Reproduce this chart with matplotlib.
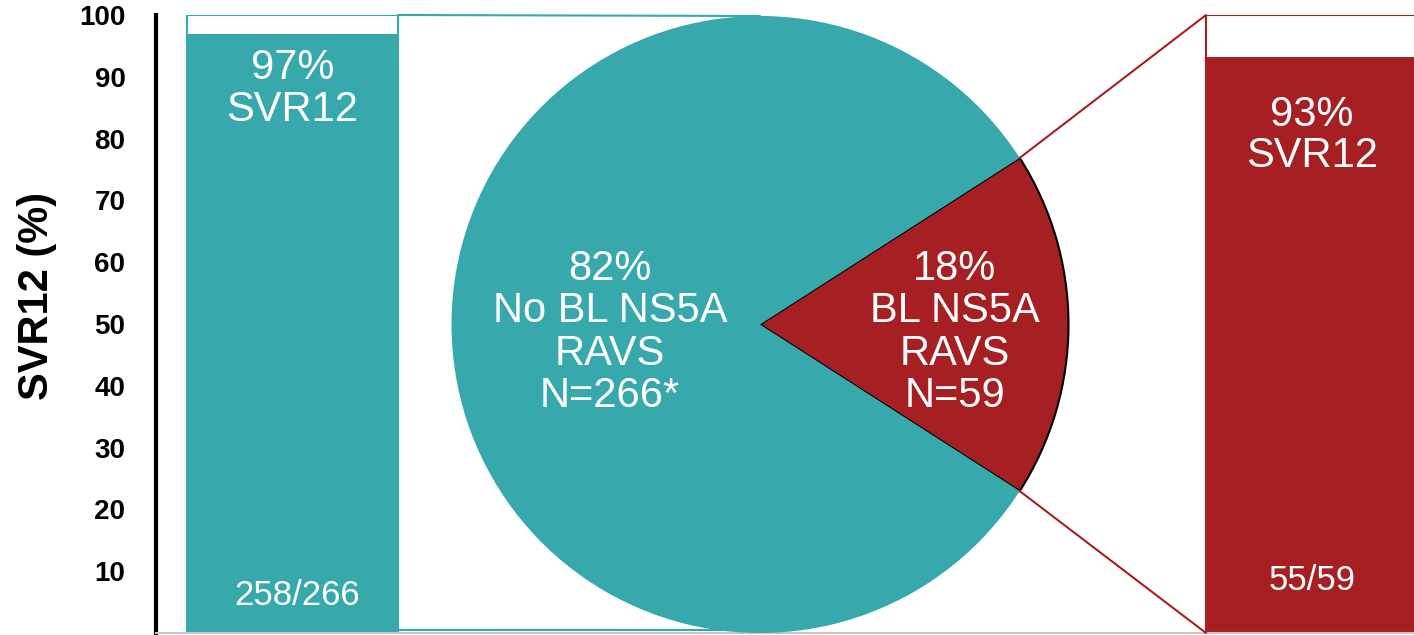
import matplotlib.pyplot as plt
from matplotlib.patches import ConnectionPatch
import numpy as np

plt.rcParams['font.family'] = ['Liberation Sans', 'DejaVu Sans']

# SVR12 outcome by baseline NS5A RAV status
groups = ['No BL NS5A\nRAVS', 'BL NS5A\nRAVS']
n_total = [266, 59]
n_svr = [258, 55]
y_ticks = [10, 20, 30, 40, 50, 60, 70, 80, 90, 100]

teal = '#37A8AC'
red = '#A61F22'

W, H = 1414, 635
fig = plt.figure(figsize=(W / 100, H / 100), dpi=100)

svr_pct = [100 * s / n for s, n in zip(n_svr, n_total)]
share = [100 * n / sum(n_total) for n in n_total]

# bar axes (x in pixel-like units, y in percent)
ax = fig.add_axes([156 / W, 2 / H, 1 - 156 / W, 618 / H])
ax.set_xlim(0, W - 156)
ax.set_ylim(0, 100)
bar_left = [31, 1050]
bar_w = [211, 230]
colors = [teal, red]
for i in range(2):
    ax.bar(bar_left[i], svr_pct[i], width=bar_w[i], align='edge', color=colors[i], lw=0)
    ax.bar(bar_left[i], 100, width=bar_w[i], align='edge', facecolor='none',
           edgecolor=colors[i], lw=1.5)
cx = [bar_left[0] + bar_w[0] / 2, 1050 + 106]
text_y = [88, 80.5]
count_y = [6, 8.5]
for i in range(2):
    ax.text(cx[i], text_y[i], f"{svr_pct[i]:.0f}%\nSVR12", color='white',
            fontsize=30, ha='center', va='center', linespacing=1.05)
    ax.text(cx[i] + (5 if i == 0 else 0), count_y[i], f"{n_svr[i]}/{n_total[i]}",
            color='white', fontsize=25, ha='center', va='center')

ax.set_yticks(y_ticks)
ax.set_yticklabels([str(t) for t in y_ticks], fontsize=20, fontweight='bold')
ax.tick_params(axis='y', length=0, pad=22)
ax.set_xticks([])
ax.spines['top'].set_visible(False)
ax.spines['right'].set_visible(False)
ax.spines['left'].set_linewidth(3)
ax.spines['left'].set_bounds(-1, 100)
ax.spines['bottom'].set_color('#c8c8c8')
ax.spines['bottom'].set_linewidth(1.5)
ax.set_ylabel('SVR12 (%)', fontsize=30, fontweight='bold')
ax.yaxis.set_label_coords(-99 / (W - 156), 0.545)

# pie axes
R = 308.5
pax = fig.add_axes([450 / W, 0.5 / H, 620 / W, 620 / H])
half = share[1] * 3.6 / 2
wedges, _ = pax.pie([share[1], share[0]], colors=[red, teal], radius=R,
                    startangle=-half, counterclock=True, frame=True)
wedges[1].set_linewidth(0)
wedges[0].set_edgecolor('black')
wedges[0].set_linewidth(1.5)
pax.set_aspect('equal')
pax.set_xlim(-310, 310)
pax.set_ylim(-310, 310)
pax.axis('off')
pax.text(-150, -8, f"{share[0]:.0f}%\n{groups[0]}\nN={n_total[0]}*", color='white',
         fontsize=30, ha='center', va='center', linespacing=1.07)
pax.text(195, -8, f"{share[1]:.0f}%\n{groups[1]}\nN={n_total[1]}", color='white',
         fontsize=30, ha='center', va='center', linespacing=1.07)

# connector lines between pie and bars
right0 = bar_left[0] + bar_w[0]
for yb, ya in [(100, R), (0.5, -R + 3)]:
    con = ConnectionPatch(xyA=(0, ya), coordsA=pax.transData,
                          xyB=(right0, yb), coordsB=ax.transData,
                          color=teal, lw=1.5)
    fig.add_artist(con)
a = np.deg2rad(half)
for yb, sgn in [(100, 1), (0, -1)]:
    con = ConnectionPatch(xyA=(R * np.cos(a), sgn * R * np.sin(a)), coordsA=pax.transData,
                          xyB=(bar_left[1], yb), coordsB=ax.transData,
                          color=red, lw=1.5)
    fig.add_artist(con)

fig.savefig('out.png', dpi=100)
